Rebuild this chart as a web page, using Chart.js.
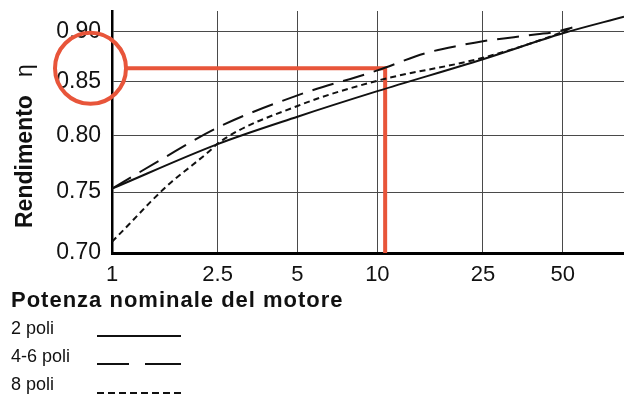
<!DOCTYPE html>
<html>
<head>
<meta charset="utf-8">
<script src="https://cdn.jsdelivr.net/npm/chart.js@4.4.1/dist/chart.umd.min.js"></script>
<style>
html,body{margin:0;padding:0;background:#fff;}
#wrap{width:624px;height:405px;position:relative;}
</style>
</head>
<body>
<div id="wrap"><canvas id="c" width="624" height="405"></canvas></div>
<script>
// ---- axes ----
const xTicks = [1, 2.5, 5, 10, 25, 50];
const yTicks = [0.70, 0.75, 0.80, 0.85, 0.90];
const xMin = 1, xMax = 85;
const yMin = 0.70, yMax = 0.921;

// ---- series (potenza kW -> rendimento) ----
const power2 = [1, 2.5, 5, 10, 25, 50, 85];
const eta2   = [0.753, 0.792, 0.817, 0.841, 0.872, 0.898, 0.915];

const power46 = [1, 1.5, 2.5, 5, 10, 15.2, 20.7, 25, 32.7, 40, 47, 54.3];
const eta46   = [0.753, 0.777, 0.807, 0.837, 0.861, 0.878, 0.886, 0.890, 0.894, 0.897, 0.8995, 0.904];

const power8 = [1, 1.17, 1.4, 1.68, 2.0, 2.39, 2.5, 5, 10, 25, 50, 54.3];
const eta8   = [0.709, 0.724, 0.742, 0.759, 0.773, 0.788, 0.7925, 0.827, 0.851, 0.8735, 0.8995, 0.904];

// ---- reference guide (red) ----
const refPower = [1.12, 10.7, 10.7];
const refEta   = [0.863, 0.863, 0.70];

const labels = ['2 poli', '4-6 poli', '8 poli'];
const xTitle = 'Potenza nominale del motore';
const yTitle = 'Rendimento';
const yTitleSym = 'η';

const FONT = "'Liberation Sans', Arial, Helvetica, sans-serif";
const RED = '#e8553a';
const INK = '#111';

function pts(xs, ys){ return xs.map((x,i)=>({x:x, y:ys[i]})); }

const decor = {
  id:'decor',
  afterDraw(chart){
    const ctx = chart.ctx;
    const ca = chart.chartArea;
    const ys = chart.scales.y;
    ctx.save();
    // circle around the read-off value
    const cy = ys.getPixelForValue(refEta[0]);
    ctx.beginPath();
    ctx.arc(ca.left - 21.5, cy, 35.5, 0, Math.PI*2);
    ctx.lineWidth = 4;
    ctx.strokeStyle = RED;
    ctx.stroke();

    // y title (rotated)
    ctx.fillStyle = INK;
    ctx.translate(31.5, 228);
    ctx.rotate(-Math.PI/2);
    ctx.textBaseline = 'alphabetic';
    ctx.textAlign = 'left';
    ctx.font = "bold 23px " + FONT;
    ctx.fillText(yTitle, 0, 0);
    ctx.font = "23px " + FONT;
    ctx.fillText(yTitleSym, 151, 0);
    ctx.setTransform(1,0,0,1,0,0);

    // x title
    ctx.font = "bold 22px " + FONT;
    ctx.letterSpacing = '1px';
    ctx.fillText(xTitle, 11, 307);
    ctx.letterSpacing = '0px';

    // legend
    const base = [334, 362, 390];
    const lineY = [336, 364, 393];
    const dashes = [[], [32,16,40,0], [7,4]];
    ctx.font = "18px " + FONT;
    for (let i=0;i<labels.length;i++){
      ctx.fillStyle = INK;
      ctx.fillText(labels[i], 11, base[i]);
      ctx.beginPath();
      ctx.setLineDash(dashes[i]);
      ctx.moveTo(97, lineY[i]);
      ctx.lineTo(181, lineY[i]);
      ctx.lineWidth = 2;
      ctx.strokeStyle = INK;
      ctx.stroke();
    }
    ctx.setLineDash([]);
    ctx.restore();
  }
};

new Chart(document.getElementById('c'), {
  type: 'line',
  data: {
    datasets: [
      {label: labels[0], data: pts(power2, eta2), borderColor: INK, borderWidth: 2, pointRadius: 0, cubicInterpolationMode: 'monotone', fill: false},
      {label: labels[1], data: pts(power46, eta46), borderColor: INK, borderWidth: 2, pointRadius: 0, borderDash: [22, 10], cubicInterpolationMode: 'monotone', fill: false},
      {label: labels[2], data: pts(power8, eta8), borderColor: INK, borderWidth: 2, pointRadius: 0, borderDash: [6, 4], cubicInterpolationMode: 'monotone', fill: false},
      {label: 'riferimento', data: pts(refPower, refEta), borderColor: RED, borderWidth: 4, pointRadius: 0, tension: 0, fill: false, borderJoinStyle: 'miter', borderCapStyle: 'butt'}
    ]
  },
  options: {
    responsive: false,
    animation: false,
    devicePixelRatio: 1,
    layout: {padding: {top: 11, left: 0, right: 0, bottom: 0}},
    plugins: {legend: {display: false}, tooltip: {enabled: false}, title: {display: false}},
    scales: {
      x: {
        type: 'logarithmic', min: xMin, max: xMax,
        afterBuildTicks: s => { s.ticks = xTicks.map(v => ({value: v})); },
        afterFit: s => { s.height = 152; s.paddingLeft = 0; s.paddingRight = 0; },
        grid: {color: '#4a4a4a', lineWidth: 1, drawTicks: false},
        border: {color: '#000', width: 3},
        ticks: {callback: v => String(v), font: {family: FONT, size: 22}, color: INK, padding: 9, maxRotation: 0, autoSkip: false}
      },
      y: {
        type: 'logarithmic', min: yMin, max: yMax,
        afterBuildTicks: s => { s.ticks = yTicks.map(v => ({value: v})); },
        afterFit: s => { s.width = 112; s.paddingTop = 0; s.paddingBottom = 0; },
        grid: {color: '#4a4a4a', lineWidth: 1, drawTicks: false},
        border: {color: '#000', width: 2.5},
        ticks: {callback: v => Number(v).toFixed(2), font: {family: FONT, size: 23}, color: INK, padding: 11, autoSkip: false}
      }
    }
  },
  plugins: [decor]
});
</script>
</body>
</html>
